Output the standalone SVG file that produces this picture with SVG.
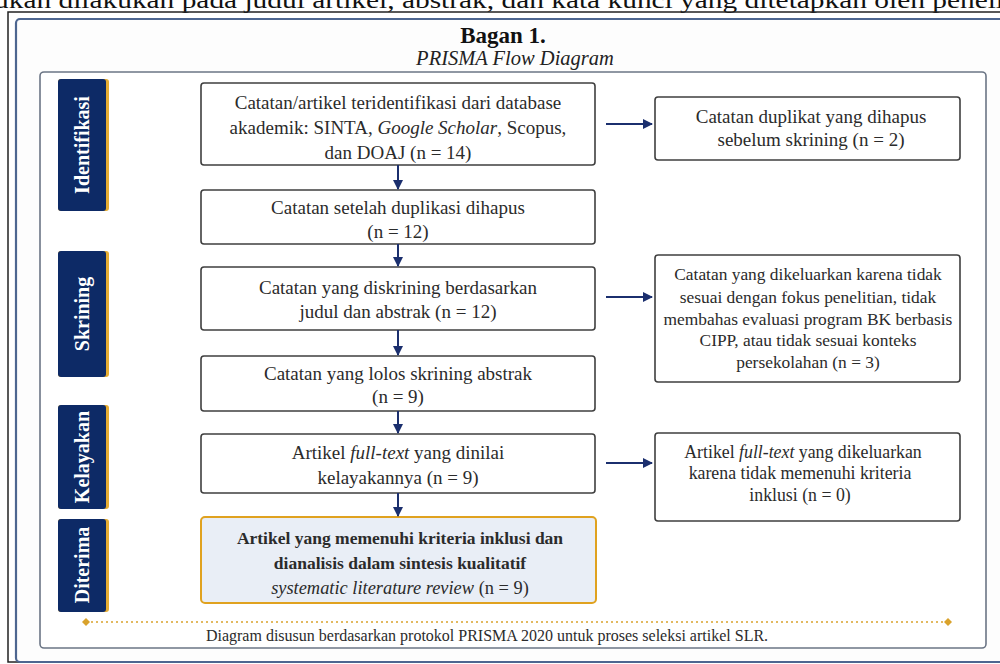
<svg xmlns="http://www.w3.org/2000/svg" width="1000" height="664" viewBox="0 0 1000 664">
<style>
.t{font-family:"Liberation Serif","DejaVu Serif",serif;font-size:19px;fill:#2b2b2b;text-anchor:middle}
.b{font-weight:bold;font-size:17.5px}
.r1{font-size:19px}
.r2{font-size:17.4px}
.r3{font-size:17.8px}
.box{fill:#ffffff;stroke:#3f3f3f;stroke-width:1.6}
.ph{fill:#0d2a66}
.gold{fill:#e6ad33}
.phl{font-family:"Liberation Serif","DejaVu Serif",serif;font-size:20px;font-weight:bold;fill:#ffffff;text-anchor:middle;dominant-baseline:central}
.arr{stroke:#1b2f6e;stroke-width:2;fill:none;marker-end:url(#ah)}
</style>
<defs>
<marker id="ah" viewBox="0 0 10 10" refX="9" refY="5" markerWidth="5" markerHeight="5" orient="auto" markerUnits="strokeWidth">
<path d="M0,0 L10,5 L0,10 z" fill="#1b2f6e"/>
</marker>
</defs>
<rect width="1000" height="664" fill="#ffffff"/>
<text x="-6" y="8" font-family="Liberation Serif, serif" font-size="24" fill="#111" textLength="1010" lengthAdjust="spacingAndGlyphs">ukan dilakukan pada judul artikel, abstrak, dan kata kunci yang ditetapkan oleh peneli</text>
<rect x="8" y="12" width="1000" height="650" fill="none" stroke="#222" stroke-width="1.5"/>
<rect x="16" y="19" width="1000" height="643" rx="4" fill="#fdfdfd" stroke="#4d6690" stroke-width="2.2"/>
<text x="503" y="43" font-family="Liberation Serif, serif" font-size="23" font-weight="bold" text-anchor="middle" fill="#111">Bagan 1.</text>
<text x="515" y="65" font-family="Liberation Serif, serif" font-size="20.5" font-style="italic" text-anchor="middle" fill="#222">PRISMA Flow Diagram</text>
<rect x="40" y="72" width="946" height="576" rx="4" fill="#ffffff" stroke="#6b7585" stroke-width="1.6"/>

<g id="phase-identifikasi">
<rect class="gold" x="58" y="79" width="51" height="132" rx="3"/>
<rect class="ph" x="58" y="79" width="48" height="132" rx="3"/>
<text class="phl" transform="translate(82,145) rotate(-90)">Identifikasi</text>
</g>
<g id="phase-skrining">
<rect class="gold" x="58" y="251" width="51" height="126" rx="3"/>
<rect class="ph" x="58" y="251" width="48" height="126" rx="3"/>
<text class="phl" transform="translate(82,314) rotate(-90)">Skrining</text>
</g>
<g id="phase-kelayakan">
<rect class="gold" x="58" y="405" width="51" height="104" rx="3"/>
<rect class="ph" x="58" y="405" width="48" height="104" rx="3"/>
<text class="phl" transform="translate(82,457) rotate(-90)">Kelayakan</text>
</g>
<g id="phase-diterima">
<rect class="gold" x="58" y="519" width="51" height="93" rx="3"/>
<rect class="ph" x="58" y="519" width="48" height="93" rx="3"/>
<text class="phl" transform="translate(82,565) rotate(-90)">Diterima</text>
</g>

<g id="n1">
<rect class="box" x="201" y="83" width="394" height="82" rx="3"/>
<text class="t" x="398" y="109">Catatan/artikel teridentifikasi dari database</text>
<text class="t" x="398" y="134">akademik: SINTA, <tspan font-style="italic">Google Scholar</tspan>, Scopus,</text>
<text class="t" x="398" y="159">dan DOAJ (n = 14)</text>
</g>
<g id="n2">
<rect class="box" x="201" y="190" width="394" height="54" rx="3"/>
<text class="t" x="398" y="214">Catatan setelah duplikasi dihapus</text>
<text class="t" x="398" y="238">(n = 12)</text>
</g>
<g id="n3">
<rect class="box" x="201" y="267" width="394" height="63" rx="3"/>
<text class="t" x="398" y="294">Catatan yang diskrining berdasarkan</text>
<text class="t" x="398" y="318">judul dan abstrak (n = 12)</text>
</g>
<g id="n4">
<rect class="box" x="201" y="356" width="394" height="55" rx="3"/>
<text class="t" x="398" y="380">Catatan yang lolos skrining abstrak</text>
<text class="t" x="398" y="403">(n = 9)</text>
</g>
<g id="n5">
<rect class="box" x="201" y="434" width="394" height="59" rx="3"/>
<text class="t" x="398" y="459">Artikel <tspan font-style="italic">full-text</tspan> yang dinilai</text>
<text class="t" x="398" y="484">kelayakannya (n = 9)</text>
</g>
<g id="n6">
<rect x="201" y="517" width="395" height="86" rx="4" fill="#e9eef6" stroke="#e0a21f" stroke-width="2"/>
<text class="t b" x="400" y="544">Artikel yang memenuhi kriteria inklusi dan</text>
<text class="t b" x="400" y="569">dianalisis dalam sintesis kualitatif</text>
<text class="t r2" x="400" y="594" style="font-size:18.4px"><tspan font-style="italic">systematic literature review</tspan> (n = 9)</text>
</g>

<g id="r1">
<rect class="box" x="655" y="97" width="305" height="63" rx="3"/>
<text class="t r1" x="811" y="123">Catatan duplikat yang dihapus</text>
<text class="t r1" x="811" y="146">sebelum skrining (n = 2)</text>
</g>
<g id="r2">
<rect class="box" x="655" y="255" width="305" height="127" rx="3"/>
<text class="t r2" x="808" y="280">Catatan yang dikeluarkan karena tidak</text>
<text class="t r2" x="808" y="303">sesuai dengan fokus penelitian, tidak</text>
<text class="t r2" x="808" y="325">membahas evaluasi program BK berbasis</text>
<text class="t r2" x="808" y="346">CIPP, atau tidak sesuai konteks</text>
<text class="t r2" x="808" y="368">persekolahan (n = 3)</text>
</g>
<g id="r3">
<rect class="box" x="655" y="433" width="305" height="88" rx="3"/>
<text class="t r3" x="803" y="458">Artikel <tspan font-style="italic">full-text</tspan> yang dikeluarkan</text>
<text class="t r3" x="800" y="479">karena tidak memenuhi kriteria</text>
<text class="t r3" x="800" y="501">inklusi (n = 0)</text>
</g>

<g id="connectors">
<line class="arr" x1="398" y1="165" x2="398" y2="189"/>
<line class="arr" x1="398" y1="244" x2="398" y2="266"/>
<line class="arr" x1="398" y1="330" x2="398" y2="355"/>
<line class="arr" x1="398" y1="411" x2="398" y2="433"/>
<line class="arr" x1="398" y1="493" x2="398" y2="516"/>
<line class="arr" x1="606" y1="124" x2="652" y2="124"/>
<line class="arr" x1="606" y1="297" x2="652" y2="297"/>
<line class="arr" x1="606" y1="463" x2="652" y2="463"/>
</g>

<g id="footer">
<line x1="86" y1="622" x2="948" y2="622" stroke="#d9a22c" stroke-width="1.5" stroke-dasharray="2,3"/>
<path d="M86,618 L90,622 L86,626 L82,622 z" fill="#d9a22c"/>
<path d="M948,618 L952,622 L948,626 L944,622 z" fill="#d9a22c"/>
<text x="487" y="641" font-family="Liberation Serif, serif" font-size="16" text-anchor="middle" fill="#2b2b2b">Diagram disusun berdasarkan protokol PRISMA 2020 untuk proses seleksi artikel SLR.</text>
</g>
</svg>
